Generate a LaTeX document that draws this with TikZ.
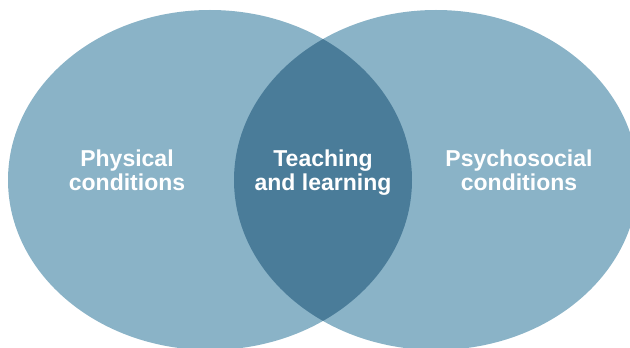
\documentclass[tikz,border=0pt]{standalone}
\usepackage{fontspec}
\setmainfont{Liberation Sans}
\usetikzlibrary{positioning, shapes.geometric}
\definecolor{circlefill}{RGB}{138,179,199}
\definecolor{lensfill}{RGB}{74,124,153}

\begin{document}
\begin{tikzpicture}[
		x=1pt, y=1pt,
		area/.style={ellipse, fill=circlefill, minimum width=404pt, minimum height=340pt, inner sep=0pt},
		vennlabel/.style={text=white, font=\bfseries\fontsize{23}{24}\selectfont, align=center, inner sep=0pt, anchor=north}
	]

	\useasboundingbox (0,0) rectangle (630,348);
	\clip (0,0) rectangle (630,348);

	\node[area] (physical) at (210,168) {};
	\node[area] (psychosocial) at (436,168) {};
	\begin{scope}
		\clip (physical.center) ellipse [x radius=202, y radius=170];
		\fill[lensfill] (psychosocial.center) ellipse [x radius=202, y radius=170];
	\end{scope}

	\node[vennlabel] (physicaltext) at (127,198) {Physical\\conditions};
	\node[vennlabel] (teaching) at (323,198) {Teaching\\and learning};
	\node[vennlabel] (psychosocialtext) at (519,198) {Psychosocial\\conditions};

\end{tikzpicture}
\end{document}
